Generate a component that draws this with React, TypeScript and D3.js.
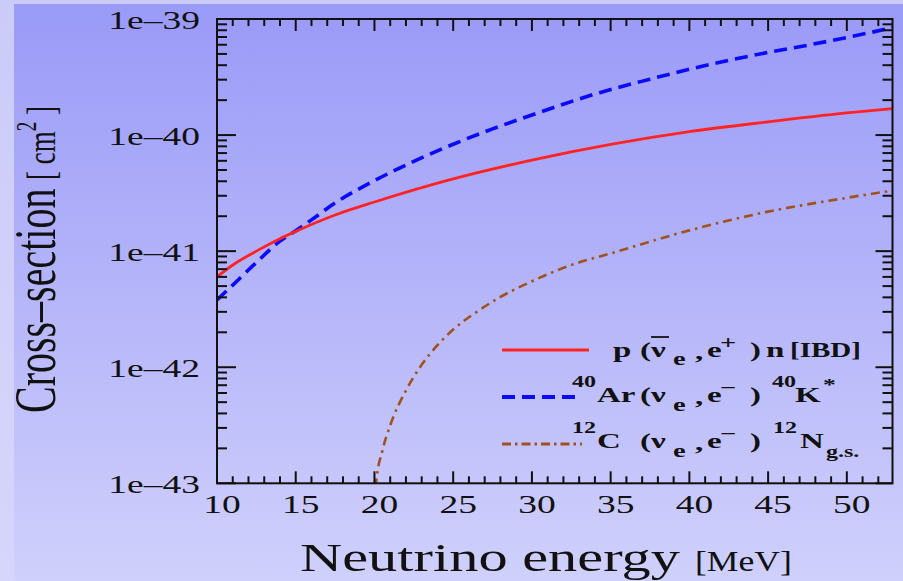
import React from 'react';
import * as d3 from 'd3';

const W = 903;
const H = 581;

// Neutrino energy [MeV] and cross-section [cm^2] for each channel
const energyIBD = [10, 11, 12.5, 14, 15, 17.5, 20, 25, 30, 35, 40, 45, 50, 52.9];
const sigmaIBD = [6.0e-42, 7.6e-42, 1.0e-41, 1.28e-41, 1.48e-41, 2.05e-41, 2.65e-41, 4.19e-41, 6.08e-41, 8.3e-41, 1.07e-40, 1.3e-40, 1.55e-40, 1.69e-40];

const energyAr = [10, 11, 12.5, 14, 15, 16, 17.5, 20, 22.5, 25, 27.5, 30, 34.3, 37.5, 40, 45, 47, 50, 52.9];
const sigmaAr = [3.8e-42, 5.1e-42, 8.0e-42, 1.22e-41, 1.5e-41, 1.86e-41, 2.6e-41, 4.05e-41, 5.94e-41, 8.34e-41, 1.13e-40, 1.49e-40, 2.32e-40, 3.03e-40, 3.69e-40, 5.15e-40, 5.77e-40, 6.93e-40, 8.41e-40];

const energyC = [20.0, 20.1, 20.5, 21, 22, 23, 24, 25, 26.5, 28, 30, 32.5, 35, 40, 45, 50, 52.9];
const sigmaC = [6e-44, 1.0e-43, 1.9e-43, 3.16e-43, 6.3e-43, 1.05e-42, 1.55e-42, 2.11e-42, 3.0e-42, 4.03e-42, 5.5e-42, 7.6e-42, 9.55e-42, 1.51e-41, 2.19e-41, 2.88e-41, 3.33e-41];

const xTickValues = [10, 15, 20, 25, 30, 35, 40, 45, 50];
const yTickValues = [1e-43, 1e-42, 1e-41, 1e-40, 1e-39];
const yTickLabels = ['1e–43', '1e–42', '1e–41', '1e–40', '1e–39'];

const FONT = '"Liberation Serif", "Times New Roman", serif';
const SX = 1.5; // horizontal stretch applied to all lettering
const INK = '#111';

type P = [number, number];
const pairs = (es: number[], ss: number[]): P[] => es.map((e, i) => [e, ss[i]]);

export default function App() {
  const left = 217, right = 892.5, top = 19, bottom = 483.3;
  const x = d3.scaleLinear().domain([10, 52.9]).range([left, right]);
  const y = d3.scaleLog().domain([1e-43, 1e-39]).range([bottom, top]);
  const line = d3
    .line<P>()
    .x((d) => x(d[0]))
    .y((d) => y(d[1]))
    .curve(d3.curveMonotoneX);

  const xMinor = d3.range(11, 53).filter((v) => v % 5 !== 0);
  const isDecade = (v: number) => Math.abs(Math.log10(v) - Math.round(Math.log10(v))) < 1e-6;
  const yMinor = y.ticks().filter((v) => !isDecade(v));

  const lx = (v: number) => v / SX;

  return (
    <svg
      width={W}
      height={H}
      viewBox={`0 0 ${W} ${H}`}
      style={{ position: 'absolute', left: 0, top: 0, display: 'block' }}
      fontFamily={FONT}
    >
      <defs>
        <linearGradient id="panel" x1="0" y1="0" x2="0" y2="1">
          <stop offset="0" stopColor="#9a9af8" />
          <stop offset="1" stopColor="#d0d0fc" />
        </linearGradient>
        <linearGradient id="strip" x1="0" y1="0" x2="0" y2="1">
          <stop offset="0" stopColor="#cbcbf8" />
          <stop offset="1" stopColor="#d6d6fc" />
        </linearGradient>
        <clipPath id="plot-clip">
          <rect x={left} y={top} width={right - left} height={bottom - top} />
        </clipPath>
      </defs>

      <rect x={0} y={0} width={W} height={H} fill="url(#strip)" />
      <rect x={14} y={4} width={W - 14} height={H - 4} fill="url(#panel)" />

      {/* curves */}
      <g clipPath="url(#plot-clip)" fill="none">
        <path d={line(pairs(energyC, sigmaC)) || ''} stroke="#a0521e" strokeWidth={2.6} strokeDasharray="9,5,2.5,5" />
        <path d={line(pairs(energyAr, sigmaAr)) || ''} stroke="#0a0aff" strokeWidth={3.6} strokeDasharray="13,7" />
        <path d={line(pairs(energyIBD, sigmaIBD)) || ''} stroke="#ff2323" strokeWidth={2.8} />
      </g>

      {/* frame and ticks */}
      <g stroke={INK} strokeWidth={2}>
        <rect x={left} y={top} width={right - left} height={bottom - top} fill="none" />
        {xTickValues.map((v) => (
          <g key={`xM${v}`}>
            <line x1={x(v)} x2={x(v)} y1={bottom} y2={bottom - 12} />
            <line x1={x(v)} x2={x(v)} y1={top} y2={top + 12} />
          </g>
        ))}
        {xMinor.map((v) => (
          <g key={`xm${v}`}>
            <line x1={x(v)} x2={x(v)} y1={bottom} y2={bottom - 7} />
            <line x1={x(v)} x2={x(v)} y1={top} y2={top + 7} />
          </g>
        ))}
        {yTickValues.map((v) => (
          <g key={`yM${v}`}>
            <line x1={left} x2={left + 19} y1={y(v)} y2={y(v)} />
            <line x1={right} x2={right - 17} y1={y(v)} y2={y(v)} />
          </g>
        ))}
        {yMinor.map((v, i) => (
          <g key={`ym${i}`}>
            <line x1={left} x2={left + 10} y1={y(v)} y2={y(v)} />
            <line x1={right} x2={right - 10} y1={y(v)} y2={y(v)} />
          </g>
        ))}
      </g>

      {/* tick labels */}
      <g fill={INK} fontSize={25}>
        {xTickValues.map((v) => (
          <g key={`xl${v}`} transform={`translate(${x(v) + 5},513) scale(${SX},1)`}>
            <text textAnchor="middle">{v}</text>
          </g>
        ))}
        {yTickValues.map((v, i) => (
          <g key={`yl${i}`} transform={`translate(200,${y(v) + 10}) scale(${SX},1)`}>
            <text textAnchor="end">{yTickLabels[i]}</text>
          </g>
        ))}
      </g>

      {/* axis titles */}
      <g transform={`translate(300,571) scale(${SX},1)`} fill={INK}>
        <text fontSize={41} textLength={lx(380)} lengthAdjust="spacingAndGlyphs">
          Neutrino energy
        </text>
        <text x={lx(395)} fontSize={29} textLength={lx(97)} lengthAdjust="spacingAndGlyphs">
          [MeV]
        </text>
      </g>
      <g transform={`translate(55,413) scale(${SX},1) rotate(-90)`} fill={INK}>
        <text fontSize={40}>Cross–section</text>
        <text x={233} fontSize={27}>
          [ cm
          <tspan fontSize={19} dy={-13}>2</tspan>
          <tspan dy={13}> ]</tspan>
        </text>
      </g>

      {/* legend */}
      <g>
        <line x1={502} x2={589} y1={350} y2={350} stroke="#ff2323" strokeWidth={3} />
        <line x1={502} x2={575} y1={397} y2={397} stroke="#0a0aff" strokeWidth={4} strokeDasharray="13,7" />
        <line x1={502} x2={582} y1={444} y2={444} stroke="#a0521e" strokeWidth={3} strokeDasharray="9,4,2.5,4" />
        <line x1={651} x2={669} y1={337} y2={337} stroke={INK} strokeWidth={1.8} />
        <g transform={`scale(${SX},1)`} fill={INK} fontWeight="bold">
          <text fontSize={22}>
            <tspan x={lx(613)} y={357}>p</tspan>
            <tspan x={lx(640)} y={357}>(</tspan>
            <tspan x={lx(651)} y={357}>ν</tspan>
            <tspan x={lx(673)} y={365} fontSize={19}>e</tspan>
            <tspan x={lx(695)} y={359}>,</tspan>
            <tspan x={lx(707)} y={357}>e</tspan>
            <tspan x={lx(720)} y={349} fontSize={19}>+</tspan>
            <tspan x={lx(750)} y={357}>)</tspan>
            <tspan x={lx(766)} y={357}>n</tspan>

            <tspan x={lx(572)} y={387} fontSize={16}>40</tspan>
            <tspan x={lx(597)} y={402}>Ar</tspan>
            <tspan x={lx(640)} y={402}>(</tspan>
            <tspan x={lx(651)} y={402}>ν</tspan>
            <tspan x={lx(673)} y={411} fontSize={19}>e</tspan>
            <tspan x={lx(695)} y={404}>,</tspan>
            <tspan x={lx(707)} y={402}>e</tspan>
            <tspan x={lx(720)} y={394} fontSize={19}>−</tspan>
            <tspan x={lx(750)} y={402}>)</tspan>
            <tspan x={lx(772)} y={387} fontSize={16}>40</tspan>
            <tspan x={lx(795)} y={402}>K</tspan>
            <tspan x={lx(823)} y={390} fontSize={17}>*</tspan>

            <tspan x={lx(572)} y={433} fontSize={16}>12</tspan>
            <tspan x={lx(597)} y={448}>C</tspan>
            <tspan x={lx(640)} y={448}>(</tspan>
            <tspan x={lx(651)} y={448}>ν</tspan>
            <tspan x={lx(673)} y={457} fontSize={19}>e</tspan>
            <tspan x={lx(695)} y={450}>,</tspan>
            <tspan x={lx(707)} y={448}>e</tspan>
            <tspan x={lx(720)} y={440} fontSize={19}>−</tspan>
            <tspan x={lx(750)} y={448}>)</tspan>
            <tspan x={lx(773)} y={433} fontSize={16}>12</tspan>
            <tspan x={lx(800)} y={448}>N</tspan>
            <tspan x={lx(826)} y={457} fontSize={16}>g.s.</tspan>
          </text>
          <text x={lx(790)} y={357} fontSize={22} textLength={lx(71)} lengthAdjust="spacingAndGlyphs">
            [IBD]
          </text>
        </g>
      </g>
    </svg>
  );
}
